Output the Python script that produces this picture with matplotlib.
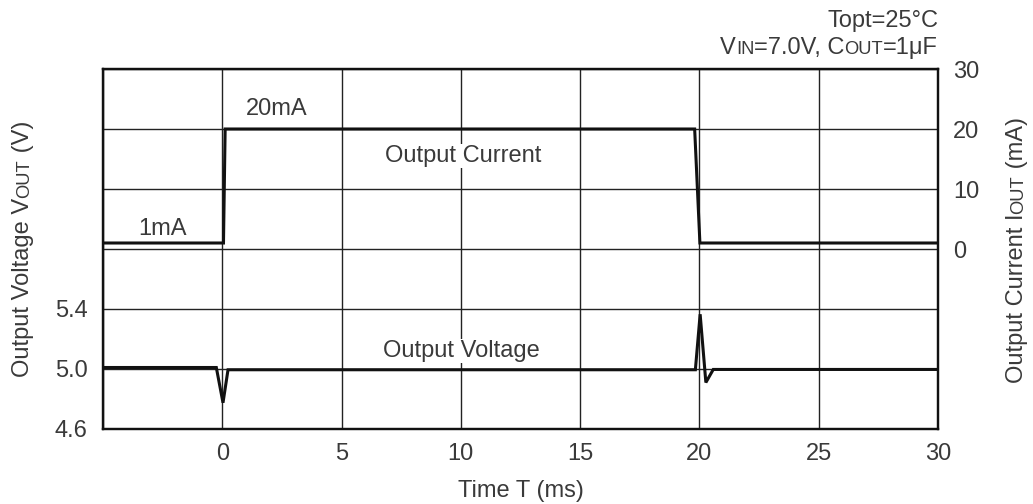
import matplotlib
matplotlib.use("Agg")
import matplotlib.pyplot as plt
import numpy as np

plt.rcParams['font.family'] = ['Liberation Sans', 'DejaVu Sans']

# ---- data ----
current_t = [-5.0, 0.05, 0.12, 19.8, 20.02, 30.0]
current_ma = [1.0, 1.0, 20.0, 20.0, 1.0, 1.0]

voltage_t = [-5.0, -0.25, 0.03, 0.24, 19.83, 20.03, 20.27, 20.58, 30.0]
voltage_v = [5.01, 5.01, 4.775, 4.995, 4.995, 5.365, 4.91, 4.997, 4.997]

x_ticks = [-5, 0, 5, 10, 15, 20, 25, 30]
x_labels = ["", "0", "5", "10", "15", "20", "25", "30"]
v_ticks = [4.6, 5.0, 5.4, 5.8, 6.2, 6.6, 7.0]
v_labels = ["4.6", "5.0", "5.4", "", "", "", ""]
i_ticks = [-30, -20, -10, 0, 10, 20, 30]
i_labels = ["", "", "", "0", "10", "20", "30"]

W, H = 1033, 504
fig = plt.figure(figsize=(W / 100, H / 100), dpi=100)
L, R, T, B = 103, 938, 69, 429
ax = fig.add_axes([L / W, 1 - B / H, (R - L) / W, (B - T) / H])
ax2 = ax.twinx()

TXT = '#3a3a3a'
FS = 17
SM = FS * 0.78

ax.set_xlim(-5, 30)
ax.set_ylim(4.6, 7.0)
ax2.set_ylim(-30, 30)
ax.set_xticks(x_ticks)
ax.set_xticklabels(x_labels)
ax.set_yticks(v_ticks)
ax.set_yticklabels(v_labels)
ax2.set_yticks(i_ticks)
ax2.set_yticklabels(i_labels)
ax.tick_params(axis='x', length=0, pad=10, labelsize=FS, labelcolor=TXT)
ax.tick_params(axis='y', length=0, pad=11, labelsize=FS, labelcolor=TXT)
ax2.tick_params(axis='y', length=0, pad=11, labelsize=FS, labelcolor=TXT)
ax.grid(True, color='#222222', linewidth=1.0)
ax.set_axisbelow(True)
for a in (ax, ax2):
    for s in a.spines.values():
        s.set_linewidth(1.6)
        s.set_color('#111111')

ax.plot(voltage_t, voltage_v, color='#111111', linewidth=2.2, solid_joinstyle='miter', zorder=5)
ax2.plot(current_t, current_ma, color='#111111', linewidth=2.2, solid_joinstyle='miter', zorder=5)

renderer = fig.canvas.get_renderer()


def ftext(x_px, y_px, s, size=FS, ha='center', **kw):
    return fig.text(x_px / W, 1 - y_px / H, s, fontsize=size, color=TXT, ha=ha,
                    va='baseline', **kw)


bbox = dict(facecolor='white', edgecolor='none', pad=1.0)
ftext(463, 162, "Output Current", bbox=bbox, zorder=3)
ftext(461, 357, "Output Voltage", bbox=bbox, zorder=3)
ftext(277, 115, "20mA")
ftext(163, 235, "1mA")
ftext(521, 497, "Time T (ms)")


def measure(s, size):
    t = fig.text(0, 0, "|" + s + "|", fontsize=size)
    w1 = t.get_window_extent(renderer).width
    t.set_text("||")
    w0 = t.get_window_extent(renderer).width
    t.remove()
    return w1 - w0


def rich(x_px, y_px, pieces, align='center', rotation=0):
    widths = [measure(s, sz) for s, sz in pieces]
    total = sum(widths)
    if align == 'center':
        start = -total / 2
    elif align == 'right':
        start = -total
    else:
        start = 0
    off = start
    for (s, sz), w in zip(pieces, widths):
        if rotation == 0:
            px, py = x_px + off, H - y_px
        else:
            px, py = x_px, H - y_px + off
        fig.text(px / W, py / H, s, fontsize=sz, color=TXT, ha='left', va='baseline',
                 rotation=rotation, rotation_mode='anchor')
        off += w


rich(938, 27, [("Topt=25°C", FS)], align='right')
rich(938, 54, [("V", FS), ("IN", SM), ("=7.0V, C", FS), ("OUT", SM), ("=1μF", FS)], align='right')
rich(29, 249, [("Output Voltage V", FS), ("OUT", SM), (" (V)", FS)], rotation=90)
rich(1023, 250, [("Output Current I", FS), ("OUT", SM), (" (mA)", FS)], rotation=90)

fig.savefig("out.png", dpi=100)
